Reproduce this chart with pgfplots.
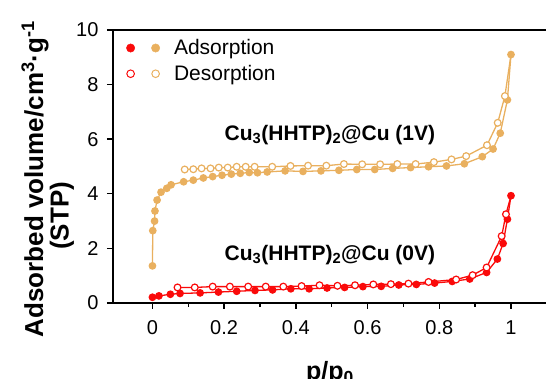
\documentclass[border=0pt]{standalone}
\usepackage{pgfplots}
\pgfplotsset{compat=1.18}
\usepackage{fontspec}
\setmainfont{Liberation Sans}
\usetikzlibrary{calc}
\definecolor{myred}{RGB}{250,10,10}
\definecolor{mytan}{RGB}{233,176,95}
\begin{document}
\begin{tikzpicture}
\begin{axis}[
  name=ax,
  scale only axis,
  width=436pt, height=273pt,
  xmin=-0.11, xmax=1.106,
  ymin=0, ymax=10,
  xtick={0,0.2,0.4,0.6,0.8,1},
  xticklabels={0,0.2,0.4,0.6,0.8,1},
  minor x tick num=1,
  ytick={0,2,4,6,8,10},
  tick align=outside,
  major tick length=6pt,
  minor tick length=4pt,
  tick style={line width=1.4pt, black},
  axis line style={line width=1.6pt},
  xtick pos=bottom, ytick pos=left,
  /pgf/number format/assume math mode=true,
  ticklabel style={font=\fontsize{20}{20}\selectfont},
  xticklabel style={yshift=-8pt},
  yticklabel style={xshift=-5pt},
  clip=false,
  legend cell align=left,
  legend style={at={(rel axis cs:0.023,0.98)}, anchor=north west, draw=none, fill=none,
    font=\fontsize{21}{24}\selectfont, row sep=5pt,
    /tikz/every odd column/.append style={column sep=12pt}},
]
% legend images
\addlegendimage{legend image code/.code={
  \fill[myred] (0pt,0pt) circle (4.2pt);
  \fill[mytan] (25pt,0pt) circle (4.2pt);}}
\addlegendentry{Adsorption}
\addlegendimage{legend image code/.code={
  \draw[myred,line width=1pt,fill=white] (0pt,0pt) circle (3.8pt);
  \draw[mytan,line width=1pt,fill=white] (25pt,0pt) circle (3.8pt);}}
\addlegendentry{Desorption}

% 1V adsorption
\addplot[mytan, line width=1.3pt, mark=*, mark size=3.2pt, mark options={fill=mytan}, forget plot] coordinates {
(0.000,1.36) (0.001,2.65) (0.006,3.00) (0.007,3.37) (0.013,3.77) (0.024,4.06)
(0.040,4.20) (0.052,4.33) (0.087,4.44) (0.114,4.50) (0.142,4.58) (0.168,4.63)
(0.194,4.68) (0.220,4.72) (0.245,4.75) (0.270,4.78) (0.293,4.77) (0.320,4.80)
(0.370,4.84) (0.420,4.82) (0.470,4.84) (0.520,4.86) (0.570,4.89) (0.620,4.89)
(0.670,4.93) (0.720,4.96) (0.770,4.99) (0.820,5.02) (0.870,5.10) (0.920,5.36)
(0.950,5.64) (0.970,6.22) (0.990,7.44) (1.000,9.10)
};
% 1V desorption
\addplot[mytan, line width=1.3pt, mark=*, mark size=3.4pt, mark options={fill=white, line width=1.2pt}, mark indices={2,...,30}, forget plot] coordinates {
(1.000,9.10) (0.983,7.58) (0.963,6.60) (0.933,5.78) (0.875,5.38) (0.834,5.26)
(0.785,5.16) (0.734,5.09) (0.683,5.09) (0.635,5.08) (0.585,5.08) (0.534,5.09)
(0.485,5.03) (0.434,5.03) (0.385,5.02) (0.334,4.99) (0.285,4.99) (0.260,4.99)
(0.235,4.99) (0.210,4.96) (0.185,4.96) (0.162,4.93) (0.137,4.93) (0.114,4.90)
(0.090,4.89)
};
% 0V adsorption
\addplot[myred, line width=1.3pt, mark=*, mark size=3.2pt, mark options={fill=myred}, forget plot] coordinates {
(0.000,0.21) (0.018,0.26) (0.050,0.32) (0.077,0.35) (0.133,0.37) (0.184,0.40)
(0.235,0.43) (0.286,0.46) (0.335,0.48) (0.386,0.52) (0.437,0.52) (0.487,0.55)
(0.536,0.57) (0.587,0.60) (0.638,0.61) (0.687,0.66) (0.736,0.68) (0.787,0.73)
(0.836,0.79) (0.885,0.88) (0.932,1.12) (0.962,1.61) (0.978,2.18) (0.990,3.07)
(1.000,3.93)
};
% 0V desorption
\addplot[myred, line width=1.3pt, mark=*, mark size=3.4pt, mark options={fill=white, line width=1.2pt}, mark indices={2,...,30}, forget plot] coordinates {
(1.000,3.93) (0.986,3.25) (0.974,2.45) (0.932,1.30) (0.893,1.02) (0.847,0.86)
(0.770,0.77) (0.714,0.71) (0.665,0.69) (0.616,0.68) (0.565,0.65) (0.516,0.63)
(0.466,0.65) (0.416,0.62) (0.365,0.60) (0.316,0.60) (0.267,0.60) (0.216,0.60)
(0.168,0.60) (0.118,0.57) (0.070,0.57)
};

\node[font=\bfseries\fontsize{21}{21}\selectfont] at (axis cs:0.495,6.15) {Cu\textsubscript{3}(HHTP)\textsubscript{2}@Cu (1V)};
\node[font=\bfseries\fontsize{21}{21}\selectfont] at (axis cs:0.495,1.76) {Cu\textsubscript{3}(HHTP)\textsubscript{2}@Cu (0V)};
\node[rotate=90, font=\bfseries\fontsize{26}{26}\selectfont] at (rel axis cs:-0.179,0.454) {Adsorbed volume/cm\textsuperscript{3}·g\textsuperscript{-1}};
\node[rotate=90, font=\bfseries\fontsize{26}{26}\selectfont] at (rel axis cs:-0.117,0.319) {(STP)};
\node[anchor=base, font=\bfseries\fontsize{25}{25}\selectfont] at (axis cs:0.495,-2.8) {p/p\textsubscript{0}};
\end{axis}
\pgfresetboundingbox
\path[use as bounding box] ($(ax.south west)+(-113pt,-76pt)$) rectangle ($(ax.south west)+(433pt,303pt)$);
\end{tikzpicture}
\end{document}
